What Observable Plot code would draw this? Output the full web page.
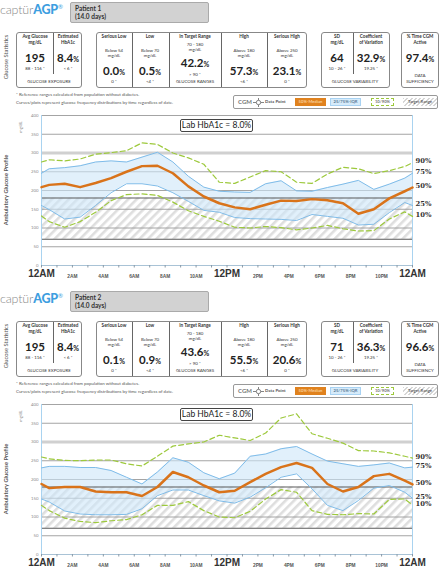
<!DOCTYPE html>
<html><head><meta charset="utf-8">
<script src="https://cdn.jsdelivr.net/npm/d3@7"></script>
<script src="https://cdn.jsdelivr.net/npm/@observablehq/plot@0.6"></script>
<style>
body{margin:0;background:#fff;}
#root{position:relative;width:440px;height:568px;overflow:hidden;font-family:Lato,"Open Sans",sans-serif;color:#333;}
.a{position:absolute;white-space:nowrap;line-height:1;}
.c{transform:translate(-50%,-50%);}
.box{position:absolute;border:1px solid #888;border-radius:3px;box-sizing:border-box;background:#fff;}
.vl{position:absolute;width:0;border-left:1.3px solid #666;}
.chart{position:absolute;left:0;}
</style></head><body><div id="root"></div>
<script>
// ---- data ----
const hours = [0,0.5,1.5,2.5,3.5,4.5,5.5,6.5,7.5,8.5,9.5,10.5,11.5,12.5,13.5,14.5,15.5,16.5,17.5,18.5,19.5,20.5,21.5,22.5,23.5,24];

const p1_p90 = [276,282,279,284,297,301,306,327,323,300,287,270,222,219,236,253,250,222,219,244,262,258,245,253,264,274];
const p1_p75 = [246,258,261,266,276,279,276,289,302,276,238,209,198,196,195,218,226,199,198,208,217,227,203,217,233,246];
const p1_p50 = [209,215,218,209,220,233,250,265,266,246,211,184,166,155,150,162,173,172,177,174,166,138,150,179,198,208];
const p1_p25 = [160,149,124,129,160,194,218,218,212,194,171,147,142,128,125,124,123,120,136,131,126,108,110,141,168,160];
const p1_p10 = [132,117,102,117,142,173,189,191,187,169,146,131,118,102,100,104,101,95,100,107,98,92,93,124,143,131];

const p2_p90 = [260,255,251,250,252,252,242,236,262,289,295,300,318,311,304,324,364,375,322,310,297,277,276,271,262,257];
const p2_p75 = [231,235,235,232,232,224,206,188,220,258,246,218,202,217,262,268,282,288,268,249,242,235,239,244,231,233];
const p2_p50 = [188,177,180,180,168,166,166,156,180,220,206,184,166,170,193,215,233,244,231,188,168,180,209,215,197,187];
const p2_p25 = [148,140,116,108,106,106,107,122,157,172,172,157,143,137,153,178,206,215,175,131,117,144,177,184,166,150];
const p2_p10 = [131,117,97,88,85,90,93,106,131,131,141,117,100,98,115,148,173,166,117,107,106,109,108,147,148,132];

const patientNames = ["Patient 1","Patient 2"];
const patientDays = ["(14.0 days)","(14.0 days)"];
const avgGlucose = ["195","195"];
const estHbA1c = ["8.4","8.4"];
const seriousLowPct = ["0.0","0.1"];
const lowPct = ["0.5","0.9"];
const inTargetPct = ["42.2","43.6"];
const highPct = ["57.3","55.5"];
const seriousHighPct = ["23.1","20.6"];
const sdValue = ["64","71"];
const cvPct = ["32.9","36.3"];
const cgmActivePct = ["97.4","96.6"];
const labHbA1c = ["8.0","8.0"];

const yTicks = [0,50,100,150,200,250,300,350,400];
const xTickHours = [0,2,4,6,8,10,12,14,16,18,20,22,24];
const xTickLabels = ["12AM","2AM","4AM","6AM","8AM","10AM","12PM","2PM","4PM","6PM","8PM","10PM","12AM"];
const pctLabels = ["90%","75%","50%","25%","10%"];

const P90 = [p1_p90, p2_p90], P75 = [p1_p75, p2_p75], P50 = [p1_p50, p2_p50], P25 = [p1_p25, p2_p25], P10 = [p1_p10, p2_p10];

// ---- layout ----
const root = document.getElementById("root");
const panelTops = [0, 289];

function panelHTML(i, top) {
  let h = "";
  const T = y => y + top;
  const t = (x, y, s, size, weight = 400, color = "#333", extra = "") =>
    h += `<div class="a c" style="left:${x}px;top:${T(y)}px;font-size:${size}px;font-weight:${weight};color:${color};${extra}">${s}</div>`;
  const pct = (v, big, small) => `${v}<span style="font-size:${small}px">%</span>`;
  // logo
  h += `<div class="a" style="left:0;top:${T(4)}px;font-size:12.5px;letter-spacing:-0.2px"><span style="color:#8a8a8a;font-weight:300">captür</span><span style="color:#3d9ee0;font-weight:900">AGP</span><span style="color:#3d9ee0;font-size:6px;vertical-align:top">®</span></div>`;
  // header
  h += `<div class="box" style="left:70px;top:${T(2)}px;width:139px;height:21px;background:#d2d2d2;border-color:#aaa;border-radius:2px"></div>`;
  h += `<div class="a" style="left:75px;top:${T(4.5)}px;font-size:6.5px;font-weight:700;color:#333;line-height:8.5px">${patientNames[i]}<br>${patientDays[i]}</div>`;
  // side label
  t(6, 57, "Glucose Statistics", 5.8, 400, "#555", "transform:translate(-50%,-50%) rotate(-90deg)");
  // boxes
  h += `<div class="box" style="left:16px;top:${T(32)}px;width:66px;height:56px"></div>`;
  h += `<div class="box" style="left:96px;top:${T(32)}px;width:211px;height:56px"></div>`;
  h += `<div class="box" style="left:321px;top:${T(32)}px;width:69px;height:56px"></div>`;
  h += `<div class="box" style="left:401px;top:${T(32)}px;width:38px;height:56px"></div>`;
  const vl = (x, y1, y2) => h += `<div class="vl" style="left:${x}px;top:${T(y1)}px;height:${y2 - y1}px"></div>`;
  vl(53, 33, 74); vl(132, 33, 87); vl(169, 33, 87); vl(221, 33, 87); vl(267, 33, 87); vl(353, 33, 74);
  const hs = 4.6, ss = 4.4, bs = 11.5, ps = 7;
  // box 1
  t(35, 36, "Avg Glucose", hs, 700); t(35, 41.5, "mg/dL", hs, 700);
  t(68, 36, "Estimated", hs, 700); t(68, 41.5, "HbA1c", hs, 700);
  t(35, 57.5, avgGlucose[i], bs, 700, "#222");
  t(68, 57.5, pct(estHbA1c[i], bs, ps), bs, 700, "#222");
  t(35, 68.5, "88 - 116 *", ss); t(68, 68.5, "&lt; 6 *", ss);
  t(49, 81.5, "GLUCOSE EXPOSURE", ss);
  // box 2
  const cols = [114, 150, 195, 244, 287];
  t(cols[0], 36, "Serious Low", hs, 700); t(cols[1], 36, "Low", hs, 700); t(cols[2], 36, "In Target Range", hs, 700);
  t(cols[3], 36, "High", hs, 700); t(cols[4], 36, "Serious High", hs, 700);
  t(cols[0], 51, "Below 54", ss); t(cols[0], 56, "mg/dL", ss);
  t(cols[1], 51, "Below 70", ss); t(cols[1], 56, "mg/dL", ss);
  t(cols[3], 51, "Above 180", ss); t(cols[3], 56, "mg/dL", ss);
  t(cols[4], 51, "Above 250", ss); t(cols[4], 56, "mg/dL", ss);
  t(cols[2], 44.5, "70 - 180", ss); t(cols[2], 49.5, "mg/dL", ss);
  t(cols[0], 71, pct(seriousLowPct[i], bs, ps), bs, 700, "#222");
  t(cols[1], 71, pct(lowPct[i], bs, ps), bs, 700, "#222");
  t(cols[2], 63, pct(inTargetPct[i], bs, ps), bs, 700, "#222");
  t(cols[3], 71, pct(highPct[i], bs, ps), bs, 700, "#222");
  t(cols[4], 71, pct(seriousHighPct[i], bs, ps), bs, 700, "#222");
  t(cols[0], 81.5, "0 *", ss); t(cols[1], 81.5, "&lt;4 *", ss); t(cols[3], 81.5, "&lt;6 *", ss); t(cols[4], 81.5, "0 *", ss);
  t(cols[2], 75, "&gt; 90 *", ss); t(cols[2], 81.5, "GLUCOSE RANGES", ss);
  // box 3
  t(337, 36, "SD", hs, 700); t(337, 41.5, "mg/dL", hs, 700);
  t(371, 36, "Coefficient", hs, 700); t(371, 41.5, "of Variation", hs, 700);
  t(337, 57.5, sdValue[i], bs, 700, "#222");
  t(371, 57.5, pct(cvPct[i], bs, ps), bs, 700, "#222");
  t(337, 68.5, "10 - 26 *", ss); t(371, 68.5, "19.25 *", ss);
  t(355, 81.5, "GLUCOSE VARIABILITY", ss);
  // box 4
  t(420, 36, "% Time CGM", hs, 700); t(420, 41.5, "Active", hs, 700);
  t(420, 57.5, pct(cgmActivePct[i], bs, ps), bs, 700, "#222");
  t(420, 76, "DATA", ss); t(420, 81.5, "SUFFICIENCY", ss);
  // footnotes
  h += `<div class="a" style="left:16px;top:${T(93)}px;font-size:4.4px;color:#555">* Reference ranges calculated from population without diabetes.</div>`;
  h += `<div class="a" style="left:16px;top:${T(101)}px;font-size:4.4px;color:#555">Curves/plots represent glucose frequency distributions by time regardless of date.</div>`;
  // legend
  h += `<div class="box" style="left:233px;top:${T(95)}px;width:205px;height:14px;border-color:#999;border-radius:2px"></div>`;
  t(245, 102, "CGM", 6, 700, "#777");
  h += `<svg class="a" style="left:253px;top:${T(97.5)}px" width="11" height="9"><line x1="0" y1="4.5" x2="11" y2="4.5" stroke="#666" stroke-width="0.8"/><line x1="5.5" y1="0" x2="5.5" y2="9" stroke="#666" stroke-width="0.8"/><circle cx="5.5" cy="4.5" r="2.2" fill="#fff" stroke="#666" stroke-width="0.8"/></svg>`;
  h += `<div class="a" style="left:265px;top:${T(100)}px;font-size:4.4px;font-weight:700;color:#555">Data Point</div>`;
  h += `<div class="a" style="left:295px;top:${T(98)}px;width:31px;height:8px;background:#e0821e;font-size:4.2px;font-weight:700;color:#f9d09a;text-align:center;line-height:8px">50%-Median</div>`;
  h += `<div class="a" style="left:330px;top:${T(98)}px;width:31px;height:8px;box-sizing:border-box;background:#d6ebfa;border:0.8px solid #a8d2f2;font-size:4.2px;font-weight:700;color:#5a7a95;text-align:center;line-height:6.5px">25/75%-IQR</div>`;
  h += `<div class="a" style="left:371px;top:${T(98)}px;width:23px;height:8px;box-sizing:border-box;border:0.8px dashed #9dc93c;font-size:4.2px;font-weight:700;color:#777;text-align:center;line-height:6.5px">10/90%</div>`;
  h += `<div class="a" style="left:403px;top:${T(98)}px;width:34px;height:8px;background:repeating-linear-gradient(-45deg,#fff 0 1.5px,#d6d6d6 1.5px 3px);font-size:4.2px;font-weight:700;color:#666;text-align:center;line-height:8px">Target Range</div>`;
  // chart labels
  t(6, 190, "Ambulatory Glucose Profile", 5.8, 700, "#555", "transform:translate(-50%,-50%) rotate(-90deg)");
  t(21, 127, "mg/dL", 4, 400, "#888", "transform:translate(-50%,-50%) rotate(-90deg)");
  return h;
}

function chart(i) {
  const rows = hours.map((hh, k) => ({h: hh, p10: P10[i][k], p25: P25[i][k], p50: P50[i][k], p75: P75[i][k], p90: P90[i][k]}));
  const last = rows[rows.length - 1];
  const ends = [last.p90, last.p75, last.p50, last.p25, last.p10].map((v, k) => ({v, s: pctLabels[k]}));
  const ticks = xTickHours.map((hh, k) => ({h: hh, s: xTickLabels[k]}));
  const major = ticks.filter(d => d.s.startsWith("12"));
  const minor = ticks.filter(d => !d.s.startsWith("12"));
  const grid = yTicks.filter(v => v > 0 && v !== 300);
  const svg = Plot.plot({
    width: 440, height: 175,
    marginTop: 10, marginBottom: 15, marginLeft: 41, marginRight: 28,
    x: {domain: [0, 24], label: null},
    y: {domain: [0, 400], label: null},
    style: {background: "transparent", fontFamily: "Lato, sans-serif", overflow: "visible"},
    marks: [
      Plot.rect([0], {x1: 0, x2: 24, y1: 70, y2: 180, fill: `url(#hatch${i})`}),
      Plot.ruleY(grid, {stroke: "#9a9a9a", strokeWidth: 0.9}),
      Plot.ruleY([300], {stroke: "#d0d0d0", strokeWidth: 3}),
      Plot.areaY(rows, {x: "h", y1: "p25", y2: "p75", fill: "#cde6f9", fillOpacity: 0.6}),
      Plot.ruleY([70, 180], {stroke: "#5a5a5a", strokeWidth: 1.2}),
      Plot.ruleX([0, 24], {stroke: "#a9d3f0", strokeWidth: 1}),
      Plot.ruleY([0], {stroke: "#a9c3d6", strokeWidth: 1}),
      Plot.axisX({ticks: d3.range(0, 25), tickSize: 2.5, tickFormat: () => "", stroke: "#8a9aa8", label: null}),
      Plot.axisY({ticks: yTicks, tickSize: 0, tickPadding: 3, fontSize: 4.3, color: "#8a8a8a", label: null}),
      Plot.line(rows, {x: "h", y: "p90", stroke: "#9dc93c", strokeWidth: 1.2, strokeDasharray: "5,3"}),
      Plot.line(rows, {x: "h", y: "p10", stroke: "#9dc93c", strokeWidth: 1.2, strokeDasharray: "5,3"}),
      Plot.line(rows, {x: "h", y: "p75", stroke: "#7fbce9", strokeWidth: 1}),
      Plot.line(rows, {x: "h", y: "p25", stroke: "#7fbce9", strokeWidth: 1}),
      Plot.line(rows, {x: "h", y: "p50", stroke: "#d9731a", strokeWidth: 2.5}),
      Plot.text(ends, {x: 24, y: "v", text: "s", dx: 3, dy: -1.5, textAnchor: "start", fontSize: 6.8, fontWeight: "bold", fontFamily: "DejaVu Serif, serif", fill: "#333"}),
      Plot.text(major, {x: "h", y: 0, text: "s", dy: 8.5, fontSize: 10, fontWeight: "bold", fontFamily: "Liberation Sans, Arial, sans-serif", fill: "#333"}),
      Plot.text(minor, {x: "h", y: 0, text: "s", dy: 10.5, fontSize: 4.8, fontWeight: "bold", fontFamily: "Liberation Sans, Arial, sans-serif", fill: "#555"})
    ]
  });
  d3.select(svg).insert("defs", ":first-child").html(
    `<pattern id="hatch${i}" patternUnits="userSpaceOnUse" width="6" height="6" patternTransform="rotate(45)"><rect width="6" height="6" fill="#fff"/><rect width="2.6" height="6" fill="#dedede"/></pattern>`);
  return svg;
}

let html = "";
panelTops.forEach((top, i) => { html += panelHTML(i, top); });
root.innerHTML = html;
panelTops.forEach((top, i) => {
  const svg = chart(i);
  svg.classList.add("chart");
  svg.style.position = "absolute";
  svg.style.left = "0px";
  svg.style.top = (top + 105) + "px";
  root.appendChild(svg);
  const box = document.createElement("div");
  box.className = "a";
  box.style.cssText = `left:180px;top:${top + 119}px;width:73px;height:13px;box-sizing:border-box;border:1px solid #444;border-radius:2px;background:#fff;font-size:8.5px;color:#222;text-align:center;line-height:11px;font-family:Lato,sans-serif`;
  box.textContent = `Lab HbA1c = ${labHbA1c[i]}%`;
  root.appendChild(box);
});
</script></body></html>
